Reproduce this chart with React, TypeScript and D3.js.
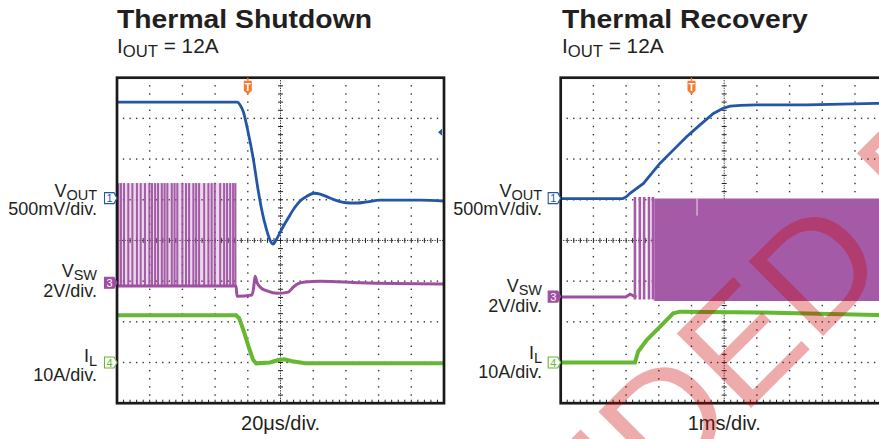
import React from 'react';
import * as d3 from 'd3';

// ---------- data (time, screen divisions from bottom) ----------
// Thermal Shutdown: 20 µs/div, t in µs (0..200)
const shutdownVout: [number, number][] = [
  [0, 7.4], [73.5, 7.4], [75.3, 7.33], [77.1, 7.18], [80.2, 6.66], [83.3, 6.02], [86.3, 5.24],
  [88.8, 4.7], [91.2, 4.3], [93.6, 4.01], [95.5, 3.91], [97.3, 4.01], [100.4, 4.25], [104.7, 4.55],
  [108.4, 4.79], [112.0, 4.97], [116.3, 5.09], [120.6, 5.16], [124.3, 5.14], [128.6, 5.07],
  [133.5, 4.99], [137.7, 4.94], [142.6, 4.92], [147.0, 4.92], [151.8, 4.94], [161.0, 4.99],
  [173.2, 4.99], [185.5, 4.99], [200, 4.97],
];
const shutdownVsw: [number, number][] = [
  [0, 2.88], [72.8, 2.88], [73.4, 2.63], [82.6, 2.66], [83.6, 2.85], [84.5, 3.12], [85.7, 2.96],
  [88.2, 2.83], [91.8, 2.76], [97.9, 2.7], [104.7, 2.73], [107.7, 2.85], [110.8, 2.94],
  [115.1, 2.98], [124.3, 3.0], [148.8, 2.96], [200, 2.93],
];
const shutdownSwitchPulses: number[] = [
  0.8, 2.4, 4.3, 6.9, 9.4, 12.2, 14.5, 17.1, 19.8, 21.4, 23.3, 25.1, 27.4, 29.1, 30.8, 33.5, 35.2,
  36.9, 40.0, 42.2, 44.1, 46.7, 48.4, 50.2, 53.3, 55.9, 57.9, 59.8, 63.1, 65.5, 67.3, 69.2, 71.0, 72.4,
];
const shutdownPulseLevels: [number, number] = [2.88, 5.41];
const shutdownIl: [number, number][] = [
  [0, 2.16], [72.8, 2.16], [74.7, 2.09], [77.7, 1.75], [80.8, 1.35], [83.3, 1.06], [85.1, 0.98],
  [93.6, 1.0], [98.6, 1.06], [102.2, 1.08], [107.1, 1.03], [115.1, 0.98], [200, 0.98],
];

// Thermal Recovery: 1 ms/div, t in ms (0..10)
const recoveryVout: [number, number][] = [
  [0, 5.03], [1.9, 5.03], [2.0, 5.07], [2.12, 5.16], [2.53, 5.4], [3.04, 5.9], [3.44, 6.22], [3.85, 6.55],
  [4.26, 6.84], [4.67, 7.12], [4.97, 7.25], [5.18, 7.3], [5.5, 7.32], [5.99, 7.33], [7.52, 7.33], [9.66, 7.37], [10, 7.37],
];
const recoveryVsw: [number, number][] = [
  [0, 2.61], [1.99, 2.61], [2.12, 2.68], [2.24, 2.63], [2.32, 2.61],
];
const recoverySwitchPulses: number[] = [2.27, 2.42, 2.55, 2.7, 2.82];
const recoverySwitchBand: [number, number, number][] = [
  [2.86, 5.03, 2.51], [10, 5.03, 2.51],
];
const recoveryGlitch: [number, number, number] = [4.17, 5.03, 4.61];
const recoveryIl: [number, number][] = [
  [0, 1.0], [2.27, 1.0], [2.37, 1.27], [2.63, 1.55], [3.04, 1.88], [3.44, 2.21], [3.65, 2.25],
  [6.09, 2.23], [9.66, 2.17], [10, 2.17],
];

// markers (divisions from bottom)
const shutdownMarkers = { vout: 5.04, vsw: 2.96, il: 1.0, trigger: 80, level: 6.66 };
const recoveryMarkers = { vout: 5.04, vsw: 2.62, il: 1.0, trigger: 4 };

// ---------- layout ----------
const PW = 327;
const PH = 325.5;
const TOP = 77.7;
const LX = 117;
const RX = 560.7;

const BLUE = '#2456a6';
const PURPLE = '#9d4fa0';
const BAND = '#a45aa7';
const GREEN = '#66b832';
const ORANGE = '#f47b30';
const FONT = '"Liberation Sans", Arial, Helvetica, sans-serif';

const yS = d3.scaleLinear().domain([0, 8]).range([TOP + PH, TOP]);

function Grid({ x0 }: { x0: number }) {
  const gx = d3.scaleLinear().domain([0, 50]).range([x0, x0 + PW]);
  const gy = d3.scaleLinear().domain([0, 40]).range([TOP, TOP + PH]);
  const dots: JSX.Element[] = [];
  for (let i = 1; i < 8; i++) {
    if (i === 4) continue;
    for (let j = 1; j < 50; j++) {
      dots.push(<rect key={`h${i}-${j}`} x={gx(j) - 0.7} y={gy(i * 5) - 0.7} width={1.4} height={1.4} fill="#333" />);
    }
  }
  for (let k = 1; k < 10; k++) {
    if (k === 5) continue;
    for (let j = 1; j < 40; j++) {
      if (j % 5 === 0) continue;
      dots.push(<rect key={`v${k}-${j}`} x={gx(k * 5) - 0.7} y={gy(j) - 0.7} width={1.4} height={1.4} fill="#333" />);
    }
  }
  const cx = gx(25);
  const cy = gy(20);
  const ticks: JSX.Element[] = [];
  for (let j = 1; j < 50; j++) {
    ticks.push(<line key={`ct${j}`} x1={gx(j)} x2={gx(j)} y1={cy - 2.5} y2={cy + 2.5} stroke="#222" strokeWidth={1} />);
    ticks.push(<line key={`bt${j}`} x1={gx(j)} x2={gx(j)} y1={TOP + PH} y2={TOP + PH - 3.5} stroke="#222" strokeWidth={1} />);
  }
  for (let j = 1; j < 40; j++) {
    ticks.push(<line key={`cv${j}`} x1={cx - 2.5} x2={cx + 2.5} y1={gy(j)} y2={gy(j)} stroke="#222" strokeWidth={1} />);
  }
  return (
    <g>
      {dots}
      <line x1={x0} x2={x0 + PW} y1={cy} y2={cy} stroke="#222" strokeWidth={1} strokeDasharray="1.2,1.3" />
      <line x1={cx} x2={cx} y1={TOP} y2={TOP + PH} stroke="#222" strokeWidth={1} strokeDasharray="1.2,1.3" />
      {ticks}
    </g>
  );
}

function ChMarker({ tipX, y, n, color, filled }: { tipX: number; y: number; n: string; color: string; filled: boolean }) {
  const p = `M${tipX},${y} L${tipX - 3},${y - 5.5} L${tipX - 12.5},${y - 5.5} L${tipX - 12.5},${y + 5.5} L${tipX - 3},${y + 5.5} Z`;
  return (
    <g>
      <path d={p} fill={filled ? color : '#fff'} stroke={color} strokeWidth={1.1} />
      <text x={tipX - 7.5} y={y + 4} fontSize={11} fontFamily={FONT} textAnchor="middle" fill={filled ? '#fff' : color}>{n}</text>
    </g>
  );
}

function Trigger({ x }: { x: number }) {
  const p = `M${x - 4},${TOP + 3} L${x + 4},${TOP + 3} L${x + 4},${TOP + 13} L${x},${TOP + 16.5} L${x - 4},${TOP + 13} Z`;
  return (
    <g>
      <line x1={x} x2={x} y1={TOP} y2={TOP + 3} stroke={ORANGE} strokeWidth={1.5} />
      <path d={p} fill={ORANGE} />
      <text x={x} y={TOP + 13} fontSize={10} fontFamily={FONT} fontWeight="bold" textAnchor="middle" fill="#fff">T</text>
    </g>
  );
}

function Labels({ right, voutY, vswY, ilY }: { right: number; voutY: number; vswY: number; ilY: number }) {
  const fs = 18;
  return (
    <g fontFamily={FONT} fontSize={fs} fill="#231f20" textAnchor="end">
      <text x={right} y={voutY}>V<tspan fontSize={14.5} dy={3}>OUT</tspan></text>
      <text x={right} y={voutY + 18}>500mV/div.</text>
      <text x={right} y={vswY}>V<tspan fontSize={14.5} dy={3}>SW</tspan></text>
      <text x={right} y={vswY + 20}>2V/div.</text>
      <text x={right} y={ilY}>I<tspan fontSize={14.5} dy={4}>L</tspan></text>
      <text x={right} y={ilY + 19}>10A/div.</text>
    </g>
  );
}

function Header({ x, title }: { x: number; title: string }) {
  return (
    <g fontFamily={FONT} fill="#231f20">
      <text transform={`translate(${x},28) scale(1.09,1)`} fontSize={26} fontWeight="bold">{title}</text>
      <text transform={`translate(${x},53) scale(1.04,1)`} fontSize={20}>I<tspan fontSize={16} dy={4}>OUT</tspan><tspan dy={-4}> = 12A</tspan></text>
    </g>
  );
}

export default function App() {
  const xL = d3.scaleLinear().domain([0, 200]).range([LX, LX + PW]);
  const xR = d3.scaleLinear().domain([0, 10]).range([RX, RX + PW]);
  const lineL = d3.line<[number, number]>().x((d) => xL(d[0])).y((d) => yS(d[1])).curve(d3.curveMonotoneX);
  const lineLinL = d3.line<[number, number]>().x((d) => xL(d[0])).y((d) => yS(d[1]));
  const lineR = d3.line<[number, number]>().x((d) => xR(d[0])).y((d) => yS(d[1]));
  const bandR = d3.area<[number, number, number]>().x((d) => xR(d[0])).y0((d) => yS(d[2])).y1((d) => yS(d[1]));

  // watermark origin (start of "DED"), rotated text baseline
  const wmX = 664;
  const wmY = 495;

  return (
    <svg width={879} height={439} style={{ position: 'absolute', left: 0, top: 0, background: '#fff' }}>
      <defs>
        <clipPath id="clipL"><rect x={LX} y={TOP} width={PW} height={PH} /></clipPath>
        <clipPath id="clipR"><rect x={RX} y={TOP} width={PW} height={PH} /></clipPath>
      </defs>
      <rect x={0} y={0} width={879} height={439} fill="#fff" />

      <Header x={117} title="Thermal Shutdown" />
      <Header x={562} title="Thermal Recovery" />

      {/* Left panel */}
      <Grid x0={LX} />
      <g clipPath="url(#clipL)">
        <rect x={xL(shutdownSwitchPulses[0]) - 1} y={yS(shutdownPulseLevels[1])} width={xL(shutdownSwitchPulses[shutdownSwitchPulses.length - 1]) - xL(shutdownSwitchPulses[0]) + 2}
          height={yS(shutdownPulseLevels[0]) - yS(shutdownPulseLevels[1])} fill={PURPLE} opacity={0.22} />
        {shutdownSwitchPulses.map((t, i) => (
          <line key={i} x1={xL(t)} x2={xL(t)} y1={yS(shutdownPulseLevels[0])} y2={yS(shutdownPulseLevels[1])} stroke={PURPLE} strokeWidth={2} opacity={0.9} />
        ))}
        <path d={lineL(shutdownVsw) || ''} fill="none" stroke={PURPLE} strokeWidth={3} />
        <path d={lineLinL(shutdownIl) || ''} fill="none" stroke={GREEN} strokeWidth={4} />
        <path d={lineL(shutdownVout) || ''} fill="none" stroke={BLUE} strokeWidth={2.8} />
      </g>
      <rect x={LX} y={TOP} width={PW} height={PH} fill="none" stroke="#1a1a1a" strokeWidth={2.7} />
      <Trigger x={xL(shutdownMarkers.trigger)} />
      <path d={`M${LX + PW - 6},${yS(shutdownMarkers.level)} L${LX + PW - 2},${yS(shutdownMarkers.level) - 3.5} L${LX + PW - 2},${yS(shutdownMarkers.level) + 3.5} Z`} fill={BLUE} />
      <ChMarker tipX={LX} y={yS(shutdownMarkers.vout)} n="1" color={BLUE} filled={false} />
      <ChMarker tipX={LX} y={yS(shutdownMarkers.vsw)} n="3" color={PURPLE} filled={true} />
      <ChMarker tipX={LX} y={yS(shutdownMarkers.il)} n="4" color={GREEN} filled={false} />
      <Labels right={97} voutY={197} vswY={277} ilY={362} />
      <text x={LX + PW / 2} y={430} fontSize={20} fontFamily={FONT} textAnchor="middle" fill="#231f20">20μs/div.</text>

      {/* Right panel */}
      <Grid x0={RX} />
      <g clipPath="url(#clipR)">
        <path d={lineR(recoveryVsw) || ''} fill="none" stroke={PURPLE} strokeWidth={3} />
        {recoverySwitchPulses.map((t, i) => (
          <line key={i} x1={xR(t)} x2={xR(t)} y1={yS(2.55)} y2={yS(5.07)} stroke={BAND} strokeWidth={2.6} />
        ))}
        <path d={bandR(recoverySwitchBand) || ''} fill={BAND} />
        <line x1={xR(recoveryGlitch[0])} x2={xR(recoveryGlitch[0])} y1={yS(recoveryGlitch[1])} y2={yS(recoveryGlitch[2])} stroke="#fff" strokeWidth={1} opacity={0.8} />
        <path d={lineR(recoveryIl) || ''} fill="none" stroke={GREEN} strokeWidth={4} />
        <path d={lineR(recoveryVout) || ''} fill="none" stroke={BLUE} strokeWidth={2.8} />
      </g>
      <rect x={RX} y={TOP} width={PW} height={PH} fill="none" stroke="#1a1a1a" strokeWidth={2.7} />
      <Trigger x={xR(recoveryMarkers.trigger)} />
      <ChMarker tipX={RX} y={yS(recoveryMarkers.vout)} n="1" color={BLUE} filled={false} />
      <ChMarker tipX={RX} y={yS(recoveryMarkers.vsw)} n="3" color={PURPLE} filled={true} />
      <ChMarker tipX={RX} y={yS(recoveryMarkers.il)} n="4" color={GREEN} filled={false} />
      <Labels right={542} voutY={197} vswY={292} ilY={359} />
      <text x={RX + PW / 2} y={430} fontSize={20} fontFamily={FONT} textAnchor="middle" fill="#231f20">1ms/div.</text>

      {/* watermark */}
      <g transform={`translate(${wmX},${wmY}) rotate(-45)`} fontFamily={FONT} fontSize={153} fill="#c80000" fillOpacity={0.33}>
        <text textAnchor="end">NOT RECOMMEN</text>
        <text>DED FOR NEW DESIGNS</text>
      </g>
    </svg>
  );
}
